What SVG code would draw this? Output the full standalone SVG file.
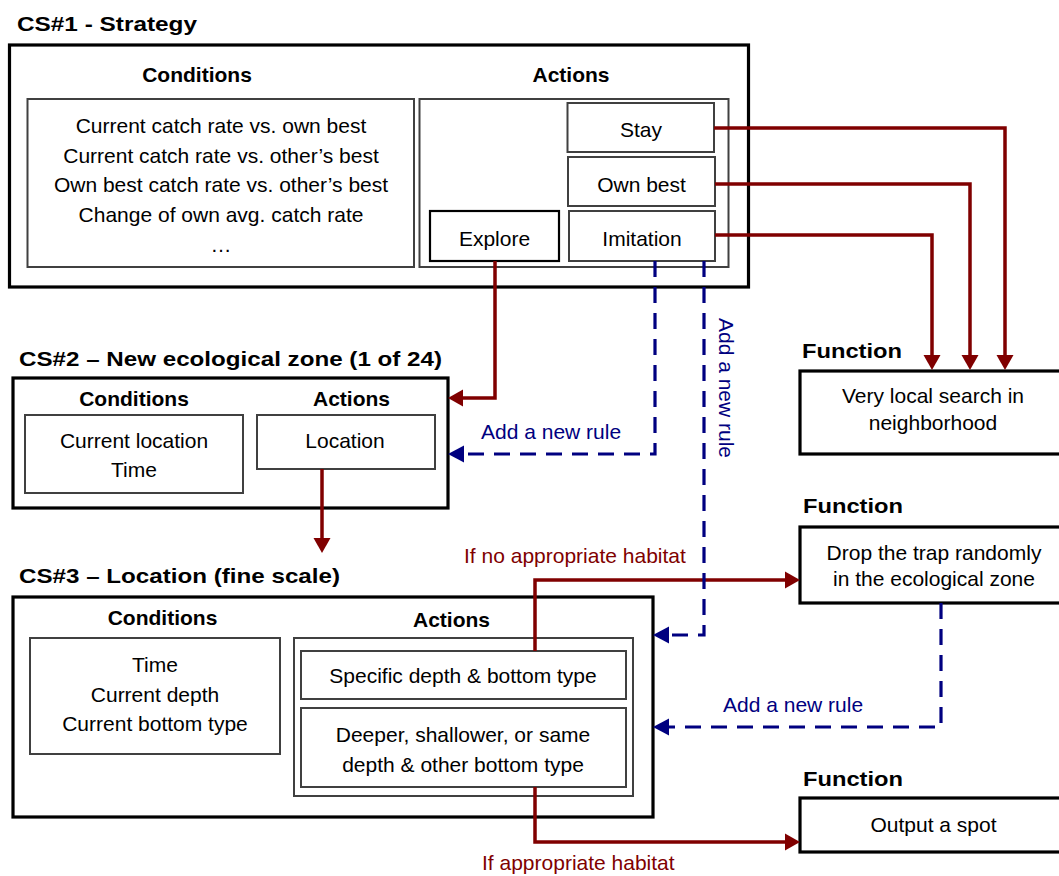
<svg xmlns="http://www.w3.org/2000/svg" width="1059" height="876" viewBox="0 0 1059 876">
<style>
text{font-family:"Liberation Sans",Arial,sans-serif;font-size:21px;fill:#000}
.t{font-weight:bold}
.h{font-weight:bold;text-anchor:middle}
.c{text-anchor:middle}
.outer{fill:#fff;stroke:#000;stroke-width:3.2}
.inner{fill:#fff;stroke:#404040;stroke-width:2}
.blk{fill:#fff;stroke:#000;stroke-width:2.2}
.red{fill:none;stroke:#800000;stroke-width:3.5}
.blue{fill:none;stroke:#000080;stroke-width:3.2;stroke-dasharray:16 10}
.rl{fill:#800000}
.bl{fill:#000080}
</style>
<defs>
<marker id="ar" markerUnits="userSpaceOnUse" markerWidth="20" markerHeight="20" viewBox="0 -10 16 20" refX="0" refY="0" orient="auto">
<path d="M0,-8.5 L15,0 L0,8.5 z" fill="#800000"/>
</marker>
<marker id="ab" markerUnits="userSpaceOnUse" markerWidth="20" markerHeight="20" viewBox="0 -10 17 20" refX="0" refY="0" orient="auto">
<path d="M0,-8.5 L16,0 L0,8.5 z" fill="#000080"/>
</marker>
</defs>
<rect width="1059" height="876" fill="#fff"/>

<g id="cs1">
<text class="t" x="17" y="31" textLength="180" lengthAdjust="spacingAndGlyphs">CS#1 - Strategy</text>
<rect class="outer" x="9.5" y="45" width="739" height="242"/>
<text class="h" x="197" y="82">Conditions</text>
<text class="h" x="571" y="82">Actions</text>
<rect class="inner" x="27.5" y="99" width="386.5" height="168"/>
<text class="c" x="221" y="133">Current catch rate vs. own best</text>
<text class="c" x="221" y="163">Current catch rate vs. other’s best</text>
<text class="c" x="221" y="192">Own best catch rate vs. other’s best</text>
<text class="c" x="221" y="222">Change of own avg. catch rate</text>
<text class="c" x="221" y="252">…</text>
<rect class="inner" x="419.5" y="99" width="309" height="168"/>
</g>
<g id="stay">
<rect class="inner" x="567.5" y="103" width="146.5" height="49"/>
<text class="c" x="641" y="137">Stay</text>
</g>
<g id="ownbest">
<rect class="inner" x="568" y="157" width="147" height="49"/>
<text class="c" x="641.5" y="192">Own best</text>
</g>
<g id="imitation">
<rect class="inner" x="569" y="211" width="146" height="50"/>
<text class="c" x="642" y="246">Imitation</text>
</g>
<g id="explore">
<rect class="blk" x="430" y="211" width="129" height="50"/>
<text class="c" x="494.5" y="246">Explore</text>
</g>

<g id="cs2">
<text class="t" x="19" y="366" textLength="423" lengthAdjust="spacingAndGlyphs">CS#2 – New ecological zone (1 of 24)</text>
<rect class="outer" x="13" y="378" width="435" height="130"/>
<text class="h" x="134" y="406">Conditions</text>
<text class="h" x="351.5" y="406">Actions</text>
<rect class="inner" x="25" y="415" width="218" height="78"/>
<text class="c" x="134" y="448">Current location</text>
<text class="c" x="134" y="477">Time</text>
</g>
<g id="location">
<rect class="inner" x="257" y="415" width="178" height="54"/>
<text class="c" x="345" y="448">Location</text>
</g>

<g id="cs3">
<text class="t" x="19" y="583" textLength="321" lengthAdjust="spacingAndGlyphs">CS#3 – Location (fine scale)</text>
<rect class="outer" x="13" y="597" width="640" height="220"/>
<text class="h" x="162.5" y="625">Conditions</text>
<text class="h" x="451.5" y="627">Actions</text>
<rect class="inner" x="30" y="638" width="250" height="116"/>
<text class="c" x="155" y="672">Time</text>
<text class="c" x="155" y="702">Current depth</text>
<text class="c" x="155" y="731">Current bottom type</text>
<rect class="inner" x="294" y="638" width="339" height="158"/>
</g>
<g id="specific">
<rect class="inner" x="301" y="651" width="325" height="48"/>
<text class="c" x="463" y="683">Specific depth &amp; bottom type</text>
</g>
<g id="deeper">
<rect class="inner" x="301" y="708" width="325" height="79"/>
<text class="c" x="463" y="742">Deeper, shallower, or same</text>
<text class="c" x="463" y="772">depth &amp; other bottom type</text>
</g>

<g id="func1">
<text class="t" x="802" y="358" textLength="100" lengthAdjust="spacingAndGlyphs">Function</text>
<rect class="outer" x="800" y="371" width="270" height="83"/>
<text class="c" x="933" y="403">Very local search in</text>
<text class="c" x="933" y="430">neighborhood</text>
</g>
<g id="func2">
<text class="t" x="803" y="513" textLength="100" lengthAdjust="spacingAndGlyphs">Function</text>
<rect class="outer" x="800" y="527" width="270" height="76"/>
<text class="c" x="934" y="560">Drop the trap randomly</text>
<text class="c" x="934" y="586">in the ecological zone</text>
</g>
<g id="func3">
<text class="t" x="803" y="786" textLength="100" lengthAdjust="spacingAndGlyphs">Function</text>
<rect class="outer" x="800" y="798" width="270" height="54"/>
<text class="c" x="933.5" y="832">Output a spot</text>
</g>

<g id="connectors">
<path class="red" d="M714,128 H1005 V355" marker-end="url(#ar)"/>
<path class="red" d="M715,184 H970 V355" marker-end="url(#ar)"/>
<path class="red" d="M715,235 H932 V355" marker-end="url(#ar)"/>
<path class="red" d="M495,261 V398 H463" marker-end="url(#ar)"/>
<path class="red" d="M322,469 V538" marker-end="url(#ar)"/>
<path class="red" d="M535,651 V580 H785" marker-end="url(#ar)"/>
<path class="red" d="M535,787 V842 H785" marker-end="url(#ar)"/>
<path class="blue" d="M655,261 V454 H464" marker-end="url(#ab)"/>
<path class="blue" d="M704,261 V635 H669" marker-end="url(#ab)"/>
<path class="blue" d="M941,603 V727 H669" marker-end="url(#ab)"/>
<text class="bl" x="481" y="439">Add a new rule</text>
<text class="bl" transform="translate(719,388) rotate(90)" text-anchor="middle">Add a new rule</text>
<text class="bl" x="723" y="712">Add a new rule</text>
<text class="rl" x="464" y="563">If no appropriate habitat</text>
<text class="rl" x="482" y="870">If appropriate habitat</text>
</g>
</svg>
